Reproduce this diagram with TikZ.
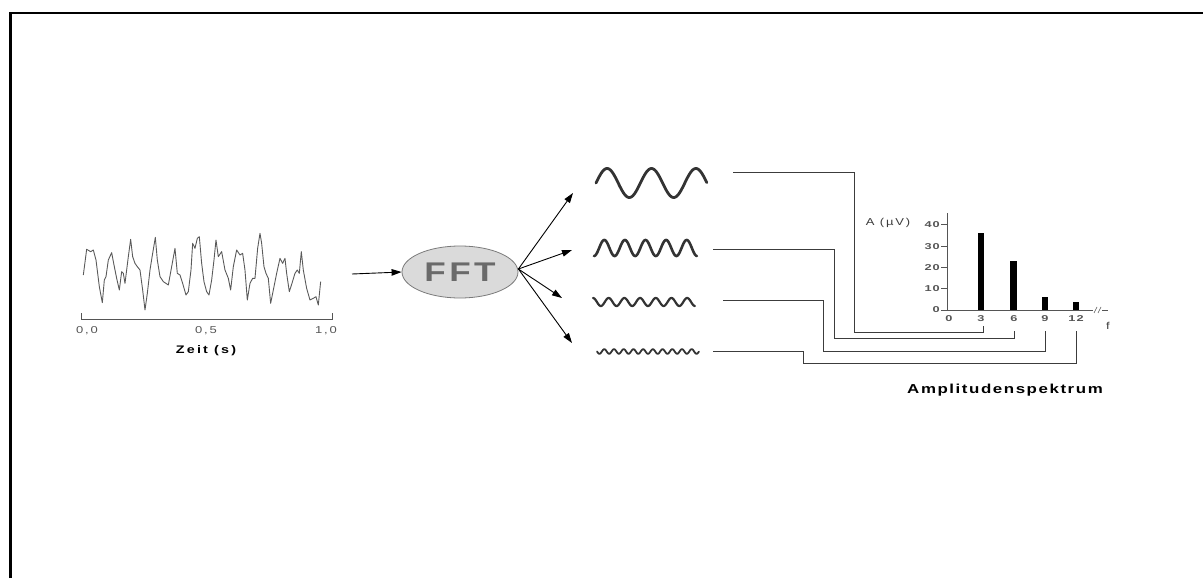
\documentclass[tikz,border=0pt]{standalone}
\usepackage{fontspec}
\setmainfont{Liberation Sans}
\usetikzlibrary{arrows.meta,shapes.geometric}
\definecolor{wavec}{HTML}{333333}
\definecolor{connc}{HTML}{3C3C3C}
\definecolor{sigc}{HTML}{5A5A5A}
\definecolor{fftfill}{HTML}{DADADA}
\definecolor{fftdraw}{HTML}{7A7A7A}
\definecolor{ffttext}{HTML}{6A6A6A}
\definecolor{numc}{HTML}{555555}
\begin{document}
\begin{tikzpicture}[x=1pt,y=-1pt,
  arr/.style={line width=0.9pt,-{Triangle[length=10pt,width=6.5pt]}},
  wave/.style={color=wavec,line cap=round,line join=round},
  conn/.style={line width=0.9pt,color=connc},
  sig/.style={line width=0.9pt,color=sigc,line join=round},
  axisline/.style={line width=0.9pt,color=numc},
  timelbl/.style={inner sep=0pt,text=numc,font=\fontsize{10}{12}\selectfont\addfontfeature{FakeStretch=1.3,LetterSpace=18}},
  boldlbl/.style={inner sep=0pt,text=black,font=\fontsize{11}{13}\selectfont\bfseries\addfontfeature{FakeStretch=1.3,LetterSpace=20}},
  titlelbl/.style={inner sep=0pt,text=black,font=\fontsize{13}{15}\selectfont\bfseries\addfontfeature{FakeStretch=1.3,LetterSpace=12}},
  ticklbl/.style={inner sep=0pt,text=numc,font=\fontsize{8.5}{10}\selectfont\bfseries\addfontfeature{FakeStretch=1.5,LetterSpace=12}},
  unitlbl/.style={inner sep=0pt,text=connc,font=\fontsize{10}{12}\selectfont\addfontfeature{FakeStretch=1.3,LetterSpace=18}},
  fftnode/.style={ellipse,draw=fftdraw,fill=fftfill,line width=0.8pt,minimum width=116pt,minimum height=52pt,inner sep=0pt,text=ffttext,font=\fontsize{27}{30}\selectfont\bfseries\addfontfeature{FakeStretch=1.3,LetterSpace=13}}
]
\useasboundingbox (0,0) rectangle (1204,578);
% frame (top and left only)
\draw[line width=2.3pt] (10.5,578) -- (10.5,13) -- (1203,13);

% EEG signal
\begin{scope}[shift={(60,220)},scale=0.3333]
\draw[sig] (70,165) -- (80,88) -- (92,95) -- (100,90) -- (108,120) -- (118,200) -- (127,248) -- (133,180) -- (138,170) -- (145,120) -- (155,98) -- (162,135) -- (170,175) -- (178,210) -- (185,155) -- (190,160) -- (195,190) -- (205,110) -- (212,58) -- (218,110) -- (225,130) -- (232,140) -- (240,150) -- (248,210) -- (255,270) -- (262,220) -- (270,150) -- (278,100) -- (286,52) -- (292,120) -- (300,170) -- (310,185) -- (325,195) -- (335,140) -- (345,85) -- (352,160) -- (360,165) -- (368,190) -- (378,225) -- (385,215) -- (393,150) -- (398,70) -- (405,85) -- (412,55) -- (418,50) -- (425,130) -- (432,185) -- (440,215) -- (447,225) -- (455,180) -- (462,120) -- (468,60) -- (475,110) -- (485,95) -- (495,150) -- (505,175) -- (512,210) -- (520,140) -- (530,90) -- (540,105) -- (548,100) -- (555,150) -- (562,240) -- (570,190) -- (578,175) -- (585,175) -- (593,85) -- (600,40) -- (605,70) -- (612,140) -- (618,160) -- (625,175) -- (632,250) -- (640,210) -- (650,160) -- (660,115) -- (668,130) -- (675,115) -- (680,160) -- (688,215) -- (696,190) -- (705,160) -- (712,150) -- (718,160) -- (724,95) -- (730,150) -- (740,205) -- (750,240) -- (760,235) -- (768,230) -- (775,255) -- (782,185);
\end{scope}
% time axis
\draw[axisline] (81,313) -- (81,319) -- (332,319) -- (332,313);
\node[timelbl,anchor=base] (t00) at (87,333) {0,0};
\node[timelbl,anchor=base] (t05) at (206,333) {0,5};
\node[timelbl,anchor=base] (t10) at (326,333) {1,0};
\node[boldlbl,anchor=base] (zeit) at (206,353) {Zeit (s)};

% FFT
\coordinate (sigout) at (352,274);
\node[fftnode] (fft) at (460,272) {FFT};
\draw[arr] (sigout) -- (fft.west);
\coordinate (fo) at ([yshift=3pt]fft.east);
\coordinate (w1in) at (573,193);
\coordinate (w2in) at (572,250);
\coordinate (w3in) at (562,298);
\coordinate (w4in) at (572,343);
\draw[arr] (fo) -- (w1in);
\draw[arr] (fo) -- (w2in);
\draw[arr] (fo) -- (w3in);
\draw[arr] (fo) -- (w4in);

% component waves
\draw[wave,line width=2.8pt] plot[domain=0:1,samples=150,smooth] ({596+111*\x},{183-14.5*sin(900*\x)});
\draw[wave,line width=2.6pt] plot[domain=0:1,samples=200,smooth] ({594+103*\x},{248+8*cos(1800*\x)});
\draw[wave,line width=2.2pt] plot[domain=0:1,samples=240,smooth] ({593+102*\x},{302-4*cos(2340*\x)});
\draw[wave,line width=1.8pt] plot[domain=0:1,samples=300,smooth] ({597+102*\x},{351.5+2.3*sin(3780*\x)});

% connectors to spectrum
\coordinate (c1) at (733,172);
\coordinate (b1) at (854,332);
\coordinate (k3) at (983,326);
\coordinate (c2) at (713,249);
\coordinate (b2) at (834,338);
\coordinate (k6) at (1014,331);
\coordinate (c3) at (723,300);
\coordinate (b3) at (823,351);
\coordinate (k9) at (1045,331);
\coordinate (c4) at (713,351);
\coordinate (b4) at (803,363);
\coordinate (k12) at (1076,331);
\draw[conn] (c1) -| (b1) -| (k3);
\draw[conn] (c2) -| (b2) -| (k6);
\draw[conn] (c3) -| (b3) -| (k9);
\draw[conn] (c4) -| (b4) -| (k12);

% spectrum chart
\draw[axisline] (947,213) -- (947,310) -- (1093,310);
\draw[line width=0.6pt,color=numc] (1094,313) -- (1097,307) (1098,313) -- (1101,307);
\draw[axisline] (1102,310) -- (1108,310);
\foreach \v/\t in {0/0,1/10,2/20,3/30,4/40}{
  \draw[axisline] (941,{310-21.3*\v}) -- (947,{310-21.3*\v});
  \node[ticklbl,anchor=east] (yl\v) at (940,{310-21.3*\v}) {\t};
}
\fill[black] (978,310) rectangle (984,233);
\fill[black] (1010,310) rectangle (1017,261);
\fill[black] (1042,310) rectangle (1048,297);
\fill[black] (1073,310) rectangle (1079,302);
\foreach \x/\t in {949/0,981/3,1014/6,1045/9,1076/12}{
  \node[ticklbl] (xl\t) at (\x,319) {\t};
}
\node[unitlbl] (flbl) at (1108,326) {f};
\node[unitlbl] (albl) at (888,223) {A (µV)};
\node[titlelbl,anchor=base] (amp) at (1005,393) {Amplitudenspektrum};
\end{tikzpicture}
\end{document}
